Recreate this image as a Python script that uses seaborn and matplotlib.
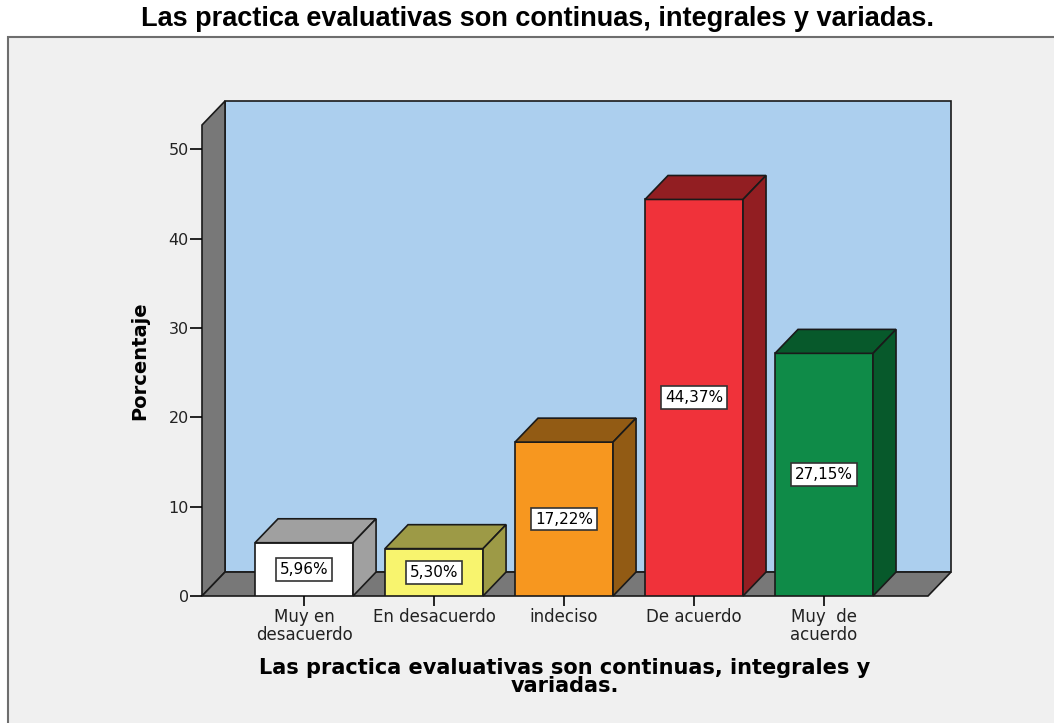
import matplotlib
matplotlib.use('Agg')
import matplotlib.pyplot as plt
from matplotlib import font_manager as fm
from matplotlib.patches import Polygon, Rectangle
import seaborn as sns
import pandas as pd

# Data
categorias = ['Muy en\ndesacuerdo', 'En desacuerdo', 'indeciso', 'De acuerdo', 'Muy  de\nacuerdo']
porcentajes = [5.96, 5.30, 17.22, 44.37, 27.15]
etiquetas = ['5,96%', '5,30%', '17,22%', '44,37%', '27,15%']

colores_frente = ['#ffffff', '#f8f46e', '#f7971f', '#f0323a', '#0f8b48']
colores_lado = ['#a0a0a0', '#9d9a46', '#925b14', '#921e22', '#07592b']

titulo = 'Las practica evaluativas son continuas, integrales y variadas.'
xlabel = 'Las practica evaluativas son continuas, integrales y\nvariadas.'

df = pd.DataFrame({'cat': categorias, 'pct': porcentajes})

# regular-width Arial-like bold for the title
title_font = None
for f in fm.fontManager.ttflist:
    if f.name == 'Liberation Sans' and f.weight in (700, 'bold') and f.style == 'normal':
        title_font = fm.FontProperties(fname=f.fname, size=19.5)
        break
if title_font is None:
    title_font = fm.FontProperties(family='DejaVu Sans', weight='bold', size=15)

sns.set_style('white')
fig = plt.figure(figsize=(10.54, 7.23), dpi=100)
fig.patch.set_facecolor('white')

# grey panel behind the chart
panel = Rectangle((8 / 1054, -0.05), 1.0, 1.05 - 37 / 723, transform=fig.transFigure,
                  facecolor='#f0f0f0', edgecolor='#6e6e6e', linewidth=1.5, zorder=-5)
fig.add_artist(panel)

ax = fig.add_axes([202 / 1054, 1 - 596 / 723, 726 / 1054, (596 - 125) / 723])
ax.set_zorder(1)
ax.patch.set_visible(False)

xmin, xmax = -0.785, 4.8
ymax = 52.7
dx, dy = 0.177, 2.68   # depth offset (data units)

# back wall, left wall, floor
ax.add_patch(Polygon([(xmin + dx, dy), (xmax + dx, dy), (xmax + dx, ymax + dy), (xmin + dx, ymax + dy)],
                     closed=True, facecolor='#accfee', edgecolor='#1a1a1a', linewidth=1.2,
                     clip_on=False, zorder=0.2))
ax.add_patch(Polygon([(xmin, 0), (xmin + dx, dy), (xmin + dx, ymax + dy), (xmin, ymax)],
                     closed=True, facecolor='#787878', edgecolor='#1a1a1a', linewidth=1.2,
                     clip_on=False, zorder=0.3))
ax.add_patch(Polygon([(xmin, 0), (xmax, 0), (xmax + dx, dy), (xmin + dx, dy)],
                     closed=True, facecolor='#787878', edgecolor='#1a1a1a', linewidth=1.2,
                     clip_on=False, zorder=0.3))

sns.barplot(data=df, x='cat', y='pct', hue='cat', palette=colores_frente, legend=False,
            saturation=1, width=0.754, edgecolor='#1a1a1a', linewidth=1.2, ax=ax, zorder=2)

# 3D top and side faces
bars = [p for p in ax.patches if p.get_zorder() == 2 and isinstance(p, Rectangle)]
for p, lado in zip(bars, colores_lado):
    x, w, h = p.get_x(), p.get_width(), p.get_height()
    ax.add_patch(Polygon([(x, h), (x + w, h), (x + w + dx, h + dy), (x + dx, h + dy)],
                         closed=True, facecolor=lado, edgecolor='#1a1a1a', linewidth=1.2,
                         clip_on=False, zorder=2))
    ax.add_patch(Polygon([(x + w, 0), (x + w + dx, dy), (x + w + dx, h + dy), (x + w, h)],
                         closed=True, facecolor=lado, edgecolor='#1a1a1a', linewidth=1.2,
                         clip_on=False, zorder=2))

for i, (v, t) in enumerate(zip(porcentajes, etiquetas)):
    ax.text(i, v / 2, t, ha='center', va='center', fontsize=11, color='black', zorder=5,
            bbox=dict(boxstyle='square,pad=0.25', facecolor='white', edgecolor='#333333', linewidth=1.2))

ax.set_xlim(xmin, xmax)
ax.set_ylim(0, ymax)
ax.set_yticks([0, 10, 20, 30, 40, 50])
sns.despine(ax=ax, left=True, bottom=True)
ax.tick_params(axis='y', direction='out', length=8.5, width=1.2, color='black',
               labelsize=11.5, labelcolor='#222222', left=True, pad=1)
ax.tick_params(axis='x', direction='out', length=7, width=1.2, color='black',
               labelsize=12, labelcolor='#222222', bottom=True, pad=2)
ax.set_xticks(range(len(categorias)))
ax.set_xticklabels(categorias, linespacing=0.95)

ax.set_xlabel(xlabel, fontsize=15, fontweight='bold', labelpad=10, linespacing=0.92, color='black')
ax.set_ylabel('Porcentaje', fontsize=14, fontweight='bold', color='black')
ax.yaxis.set_label_coords(-0.073, 0.5)

fig.text(538 / 1054, 1 - 19 / 723, titulo, ha='center', va='center',
         fontproperties=title_font, color='black')

fig.savefig('out.png', dpi=100)
